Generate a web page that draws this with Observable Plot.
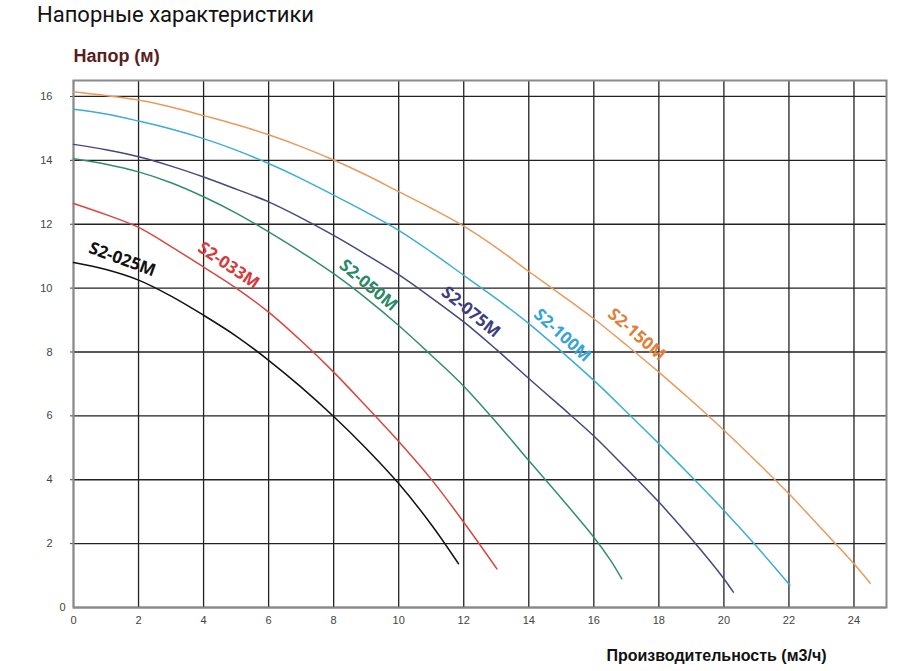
<!DOCTYPE html>
<html>
<head>
<meta charset="utf-8">
<script src="https://cdn.jsdelivr.net/npm/d3@7"></script>
<script src="https://cdn.jsdelivr.net/npm/@observablehq/plot@0.6"></script>
<style>
  body { margin: 0; background: #fff; }
  #title { height: 30px; line-height: 30px; padding-left: 37px; font-family: Roboto, "Noto Sans", sans-serif; font-size: 22px; color: #111; }
</style>
</head>
<body>
<div id="title">Напорные характеристики</div>
<div id="chart"></div>
<script>
const models = ["S2-025M", "S2-033M", "S2-050M", "S2-075M", "S2-100M", "S2-150M"];
const colors = ["#111111", "#d9463f", "#2f8f6c", "#48467f", "#3aaed4", "#eb9a5c"];
const labelColors = ["#111111", "#d63a3a", "#2a8a68", "#3e3c7e", "#36a4d6", "#e07f3a"];

const flow025 = [0, 1, 2, 3, 4, 5, 6, 7, 8, 9, 10, 11, 11.84];
const head025 = [10.8, 10.58, 10.25, 9.75, 9.15, 8.5, 7.74, 6.9, 5.98, 4.98, 3.88, 2.6, 1.37];
const flow033 = [0, 1, 2, 3, 4, 5, 6, 7, 8, 9, 10, 11, 12, 13.02];
const head033 = [12.65, 12.3, 11.9, 11.3, 10.66, 10.0, 9.25, 8.35, 7.37, 6.3, 5.2, 4.02, 2.67, 1.21];
const flow050 = [0, 1, 2, 3, 4, 5, 6, 7, 8, 9, 10, 11, 12, 13, 14, 15, 16, 16.5, 16.86];
const head050 = [14.05, 13.88, 13.64, 13.3, 12.86, 12.35, 11.76, 11.13, 10.45, 9.68, 8.83, 7.9, 6.93, 5.8, 4.6, 3.42, 2.2, 1.5, 0.9];
const flow075 = [0, 1, 2, 3, 4, 5, 6, 7, 8, 9, 10, 11, 12, 13, 14, 15, 16, 17, 18, 19, 20, 20.29];
const head075 = [14.5, 14.33, 14.11, 13.82, 13.48, 13.1, 12.7, 12.2, 11.65, 11.05, 10.42, 9.7, 8.94, 8.08, 7.17, 6.28, 5.37, 4.35, 3.3, 2.15, 0.9, 0.48];
const flow100 = [0, 1, 2, 3, 4, 5, 6, 7, 8, 9, 10, 11, 12, 13, 14, 15, 16, 17, 18, 19, 20, 21, 22.03];
const head100 = [15.6, 15.45, 15.23, 14.98, 14.68, 14.32, 13.9, 13.43, 12.91, 12.38, 11.81, 11.13, 10.4, 9.67, 8.89, 8.02, 7.11, 6.13, 5.13, 4.1, 3.04, 1.92, 0.7];
const flow150 = [0, 1, 2, 3, 4, 5, 6, 7, 8, 9, 10, 11, 12, 13, 14, 15, 16, 17, 18, 19, 20, 21, 22, 23, 24, 24.5];
const head150 = [16.15, 16.03, 15.89, 15.67, 15.4, 15.12, 14.8, 14.43, 14.01, 13.54, 13.02, 12.5, 11.94, 11.27, 10.52, 9.79, 9.04, 8.22, 7.37, 6.48, 5.55, 4.57, 3.56, 2.47, 1.37, 0.76];

const labelFlow = [1.5, 4.77, 9.07, 12.22, 15.03, 17.32];
const labelHead = [10.9, 10.71, 10.09, 9.25, 8.52, 8.55];
const labelAngle = [20, 34, 40, 39, 42, 41];

const xTicks = [0, 2, 4, 6, 8, 10, 12, 14, 16, 18, 20, 22, 24];
const yTicks = [0, 2, 4, 6, 8, 10, 12, 14, 16];
const yTicksUpper = [2, 4, 6, 8, 10, 12, 14, 16];
const yTickZero = [0];

const flows = [flow025, flow033, flow050, flow075, flow100, flow150];
const heads = [head025, head033, head050, head075, head100, head150];
const curves = models.flatMap((m, i) => flows[i].map((q, j) => ({model: m, q, h: heads[i][j], color: colors[i]})));
const labels = models.map((m, i) => ({model: m, q: labelFlow[i], h: labelHead[i], angle: labelAngle[i], color: labelColors[i]}));

const chart = Plot.plot({
  width: 898,
  height: 641,
  marginLeft: 73,
  marginRight: 12,
  marginTop: 50,
  marginBottom: 64,
  style: {fontFamily: "Arial, 'Liberation Sans', sans-serif", background: "#fff"},
  x: {domain: [0, 25]},
  y: {domain: [0, 16.5]},
  marks: [
    Plot.gridX(xTicks, {stroke: "#222", strokeOpacity: 1, strokeWidth: 1.3}),
    Plot.gridY(yTicks, {stroke: "#222", strokeOpacity: 1, strokeWidth: 1.3}),
    Plot.axisY(yTicksUpper, {tickSize: 3, tickPadding: 18, fontSize: 11, color: "#444", stroke: "#444", label: null}),
    Plot.axisY(yTickZero, {tickSize: 0, tickPadding: 8, fontSize: 11, color: "#444", label: null}),
    Plot.axisX(xTicks, {tickSize: 0, tickPadding: 9, fontSize: 11, color: "#444", label: null}),
    Plot.frame({stroke: "#8a8a8a", strokeWidth: 2}),
    Plot.line(curves, {x: "q", y: "h", z: "model", stroke: "color", strokeWidth: 1.5, curve: "catmull-rom"}),
    Plot.text(labels, {x: "q", y: "h", text: "model", rotate: "angle", fill: "color", fontSize: 17, fontWeight: "bold", fontFamily: "'Open Sans', sans-serif"}),
    Plot.text(["Напор (м)"], {frameAnchor: "top-left", textAnchor: "start", lineAnchor: "middle", dy: -24, fontSize: 18, fontWeight: "bold", fill: "#5a1d1d"}),
    Plot.text(["Производительность (м3/ч)"], {frameAnchor: "bottom-right", textAnchor: "end", lineAnchor: "middle", dx: -60, dy: 48, fontSize: 16, fontWeight: "bold", fill: "#111"})
  ]
});
document.getElementById("chart").appendChild(chart);
</script>
</body>
</html>
